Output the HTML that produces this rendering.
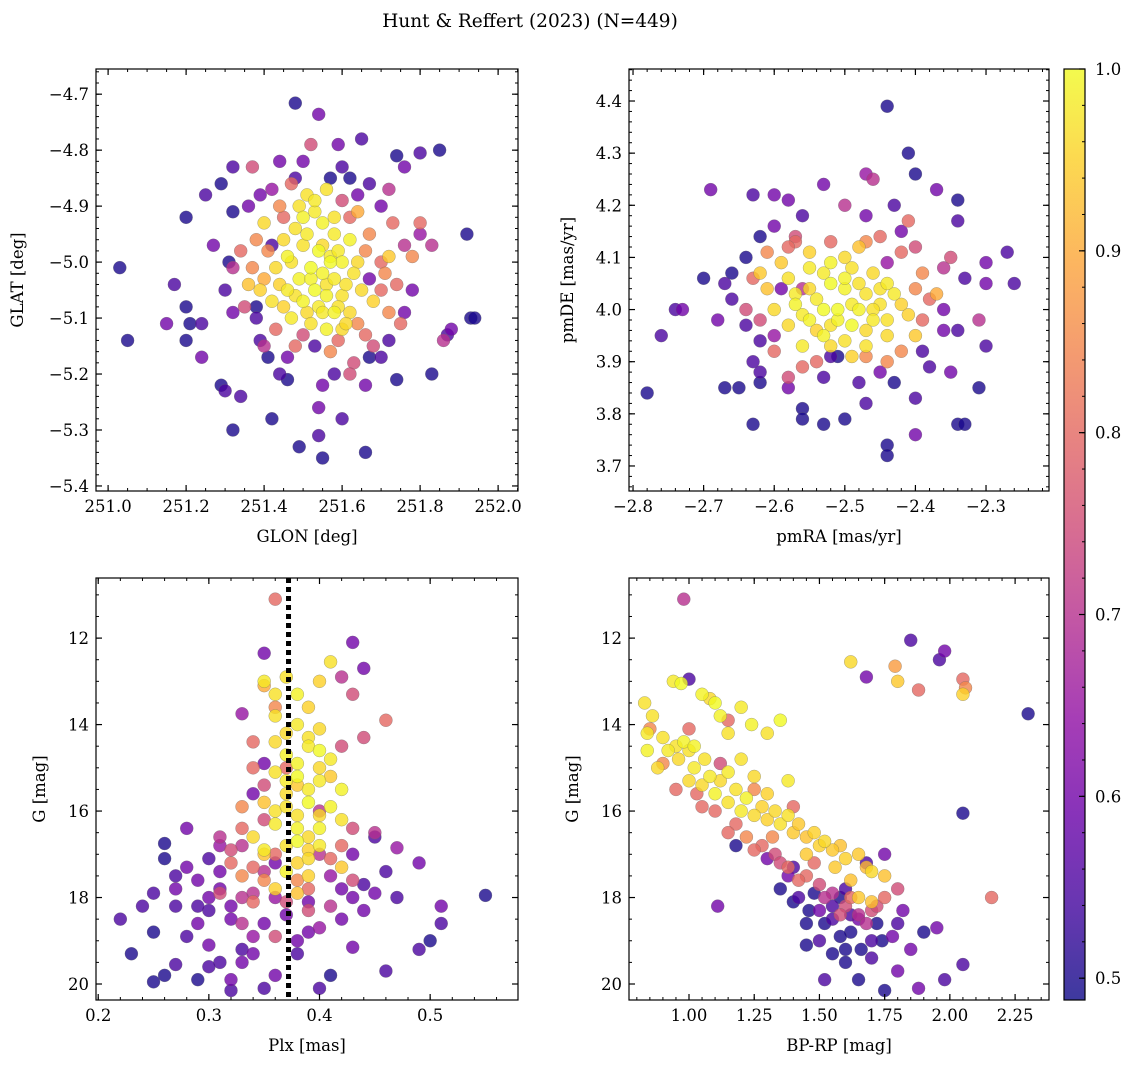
<!DOCTYPE html>
<html><head><meta charset="utf-8"><style>
body{margin:0;background:#fff;}
svg text{font-family:"DejaVu Serif","Liberation Serif",serif;fill:#000;}
</style></head><body>
<svg id="fig" width="1136" height="1068" xmlns="http://www.w3.org/2000/svg">
<text x="530" y="27" font-size="18.5" text-anchor="middle">Hunt &amp; Reffert (2023) (N=449)</text>
</svg>
<script>
// Panel 1: GLON / GLAT / membership probability
const p1x=[251.48,251.54,251.65,251.74,251.85,251.80,251.76,251.32,251.37,251.44,251.52,251.59,251.62,251.67,251.72,251.29,251.25,251.32,251.39,251.20,251.03,251.17,251.20,251.21,251.24,251.15,251.24,251.20,251.05,251.29,251.30,251.34,251.32,251.42,251.49,251.55,251.54,251.60,251.66,251.54,251.67,251.74,251.83,251.88,251.86,251.87,251.93,251.94,251.92,251.80,251.83,251.80,251.27,251.31,251.32,251.32,251.38,251.39,251.41,251.46,251.72,251.76,251.74,251.71,251.76,
251.51,251.53,251.55,251.48,251.45,251.58,251.62,251.50,251.54,251.57,251.60,251.47,251.43,251.52,251.55,251.58,251.63,251.49,251.46,251.53,251.56,251.60,251.65,251.50,251.42,251.54,251.58,251.62,251.47,251.52,251.56,251.60,251.39,251.36,251.68,251.72,251.40,251.56,
251.44,251.62,251.66,251.70,251.64,251.59,251.50,251.43,251.37,251.34,251.47,251.60,251.75,251.78,251.68,251.63,251.40,
251.48,251.57,251.64,251.42,251.67,251.53,251.46,251.58,251.66,251.38,
251.49,251.51,251.46,251.55,251.59,251.61,251.57,251.52,251.48,251.55,251.51,251.44,251.59,251.64,251.53,251.50,251.56,251.61,251.45,251.58,
251.41,251.45,251.67,251.70,251.72,251.66,251.57,251.48,251.40,251.38,251.64,251.73,251.62,251.35,
251.50,251.60,251.70,251.36,251.30,251.44,251.55,251.70,251.78,251.42];
const p1y=[-4.716,-4.736,-4.78,-4.81,-4.80,-4.805,-4.83,-4.83,-4.83,-4.82,-4.79,-4.79,-4.85,-4.86,-4.87,-4.86,-4.88,-4.91,-4.88,-4.92,-5.01,-5.04,-5.08,-5.11,-5.11,-5.11,-5.17,-5.14,-5.14,-5.22,-5.23,-5.24,-5.30,-5.28,-5.33,-5.35,-5.31,-5.28,-5.34,-5.26,-5.17,-5.21,-5.20,-5.12,-5.14,-5.13,-5.10,-5.10,-4.95,-4.95,-4.97,-4.93,-4.97,-5.00,-5.01,-5.09,-5.08,-5.14,-5.17,-5.21,-5.14,-5.09,-5.04,-5.02,-4.97,
-4.88,-4.91,-4.93,-4.94,-4.96,-4.95,-4.96,-4.97,-4.98,-4.99,-5.00,-5.00,-5.01,-5.01,-5.02,-5.03,-5.02,-5.03,-5.05,-5.05,-5.06,-5.06,-5.05,-5.07,-5.07,-5.08,-5.09,-5.09,-5.10,-5.11,-5.12,-5.12,-5.05,-5.04,-5.07,-4.99,-4.93,-4.87,
-4.90,-4.92,-4.98,-5.05,-5.11,-5.14,-5.13,-5.12,-5.01,-4.98,-4.86,-4.89,-5.11,-4.99,-5.15,-5.18,-5.15,
-4.85,-4.85,-4.88,-4.97,-5.03,-5.15,-5.17,-5.20,-5.22,-5.10,
-4.90,-4.95,-4.99,-4.97,-4.98,-5.04,-5.00,-5.03,-5.06,-5.09,-5.09,-5.04,-5.08,-5.00,-4.89,-4.92,-5.04,-5.11,-5.08,-4.92,
-4.98,-4.92,-4.95,-5.00,-5.09,-5.13,-5.16,-5.15,-5.03,-4.96,-4.91,-4.93,-5.20,-5.08,
-4.82,-4.83,-4.90,-4.90,-5.05,-5.20,-5.22,-5.17,-5.05,-4.87];
const p1c=[.5,.6,.55,.5,.5,.55,.6,.55,.75,.6,.75,.6,.5,.55,.7,.5,.55,.5,.6,.5,.5,.55,.5,.5,.55,.6,.6,.5,.5,.5,.55,.55,.5,.5,.5,.5,.55,.55,.5,.6,.5,.5,.5,.6,.7,.55,.5,.5,.5,.65,.7,.8,.6,.5,.7,.6,.5,.55,.5,.5,.55,.6,.8,.85,.7,
.97,.98,.99,.97,.96,.98,.99,.97,1,.98,.99,.97,.96,1,.99,.98,.97,.99,.98,1,.99,.97,.96,.99,.97,.98,.99,.96,.98,.97,.99,.96,.95,.93,.95,.94,.96,.97,
.85,.8,.85,.8,.85,.8,.75,.8,.85,.8,.8,.75,.8,.85,.75,.75,.7,
.55,.5,.6,.55,.6,.55,.6,.55,.6,.55,
.97,.98,.99,.96,.98,.97,1,.99,.97,.98,.96,.95,.97,.96,.98,.99,.97,.96,.95,.97,
.85,.8,.85,.8,.85,.8,.85,.8,.9,.85,.9,.8,.75,.75,
.6,.55,.6,.6,.55,.55,.6,.55,.6,.65];

// Panel 2: pmRA / pmDE
const p2x=[-2.44,-2.41,-2.69,-2.63,-2.60,-2.53,-2.47,-2.46,-2.40,-2.37,-2.34,-2.43,-2.50,-2.58,-2.56,-2.34,-2.27,-2.30,-2.26,-2.30,-2.31,-2.31,-2.35,-2.34,-2.33,-2.34,-2.38,-2.40,-2.40,-2.43,-2.44,-2.44,-2.47,-2.53,-2.56,-2.56,-2.63,-2.62,-2.65,-2.67,-2.78,-2.76,-2.74,-2.73,-2.70,-2.67,-2.66,-2.64,-2.62,-2.64,-2.62,-2.60,-2.63,-2.62,-2.30,-2.36,-2.48,-2.50,-2.58,-2.51,
-2.58,-2.55,-2.52,-2.49,-2.46,-2.44,-2.52,-2.50,-2.47,-2.54,-2.57,-2.60,-2.51,-2.48,-2.45,-2.43,-2.55,-2.52,-2.49,-2.46,-2.58,-2.53,-2.50,-2.56,-2.44,-2.41,-2.47,-2.62,-2.48,-2.55,-2.40,
-2.61,-2.57,-2.47,-2.42,-2.39,-2.38,-2.37,-2.42,-2.47,-2.54,-2.60,-2.64,-2.57,-2.52,-2.40,-2.36,-2.56,-2.44,-2.59,-2.52,-2.42,
-2.53,-2.50,-2.48,-2.55,-2.53,-2.49,-2.46,-2.51,-2.47,-2.44,-2.57,-2.54,-2.50,-2.59,-2.45,-2.42,-2.52,-2.56,-2.61,-2.49,
-2.58,-2.63,-2.45,-2.40,-2.39,-2.44,-2.56,-2.62,-2.35,-2.41,
-2.66,-2.36,-2.45,-2.58,-2.53,-2.68,-2.33,-2.47,-2.60,-2.39];
const p2y=[4.39,4.30,4.23,4.22,4.22,4.24,4.26,4.25,4.26,4.23,4.21,4.20,4.20,4.21,4.18,4.17,4.11,4.09,4.05,4.05,3.98,3.85,3.88,3.78,3.78,3.96,3.89,3.83,3.76,3.86,3.74,3.72,3.82,3.78,3.81,3.79,3.78,3.86,3.85,3.85,3.84,3.95,4.00,4.00,4.06,4.05,4.07,4.10,4.14,3.97,3.94,3.95,3.90,3.88,3.93,3.96,3.86,3.79,3.87,3.91,
4.06,4.08,4.09,4.08,4.07,4.05,4.05,4.04,4.03,4.02,4.01,4.00,4.00,4.00,4.01,4.03,3.98,3.97,3.97,3.98,3.97,3.95,3.94,3.93,3.95,3.99,3.93,4.07,4.12,4.11,3.95,
4.11,4.13,4.13,4.11,4.07,4.02,4.03,3.92,3.91,3.90,3.92,4.00,4.14,4.13,4.12,4.08,4.04,4.09,4.04,3.91,4.15,
4.07,4.06,4.05,4.04,4.00,4.01,4.00,3.98,3.96,3.98,4.03,3.96,4.10,4.09,4.04,4.01,3.93,3.99,4.04,3.91,
4.12,4.06,4.14,4.04,3.98,3.90,3.89,3.98,4.10,4.17,
4.02,4.00,3.88,3.85,3.87,3.98,4.06,4.18,4.16,3.92];
const p2c=[.5,.5,.6,.55,.6,.6,.65,.7,.5,.6,.5,.55,.7,.6,.55,.55,.55,.6,.55,.6,.7,.5,.6,.5,.5,.55,.55,.55,.6,.5,.5,.5,.55,.5,.5,.5,.5,.5,.5,.5,.5,.55,.55,.6,.5,.55,.5,.5,.5,.55,.55,.65,.55,.55,.55,.6,.55,.5,.75,.5,
.97,.98,.99,.97,.96,.98,1,.99,.97,.98,.99,.96,1,.99,.97,.98,.99,.97,1,.98,.96,.99,.97,.98,.96,.95,.97,.94,.93,.95,.94,
.85,.8,.85,.8,.85,.8,.9,.85,.85,.8,.8,.75,.75,.8,.75,.7,.7,.65,.6,.55,.6,
.98,.99,.97,.96,1,.98,.97,.99,.96,.97,.98,.95,.96,.94,.97,.95,.96,.98,.93,.95,
.8,.8,.8,.85,.8,.85,.8,.75,.75,.8,
.55,.6,.6,.6,.55,.6,.55,.6,.6,.55];

// Panel 3: Plx / G
const p3x=[0.22,0.23,0.24,0.25,0.25,0.26,0.27,0.28,0.26,0.26,0.27,0.28,0.29,0.30,0.29,0.30,0.31,0.29,0.32,0.32,0.33,0.34,0.35,0.36,0.38,0.39,0.40,0.41,0.43,0.46,0.49,0.50,0.55,0.51,0.51,0.49,0.47,0.46,0.44,0.42,0.43,0.45,0.44,0.40,0.37,0.34,0.32,0.31,0.33,0.34,0.33,0.35,0.35,0.43,0.44,0.42,0.43,0.30,0.28,0.31,0.35,0.36,0.41,0.40,0.39,0.36,0.42,0.34,0.30,0.27,
0.41,0.35,0.38,0.36,0.37,0.39,0.40,0.38,0.36,0.40,0.42,0.37,0.39,0.41,0.38,0.36,0.40,0.42,0.38,0.35,0.39,0.37,0.36,0.41,0.34,0.40,0.37,0.38,0.35,0.39,0.42,0.36,0.40,0.38,
0.35,0.36,0.34,0.37,0.33,0.33,0.35,0.34,0.38,0.42,0.43,0.44,0.42,0.46,0.39,0.33,0.32,0.31,0.36,0.40,0.45,0.31,0.36,0.33,
0.38,0.39,0.37,0.40,0.38,0.39,0.37,0.38,0.39,0.37,0.40,0.38,0.36,0.41,0.36,0.39,0.40,0.37,0.35,0.39,
0.34,0.35,0.36,0.35,0.34,0.37,0.39,0.41,0.43,0.32,0.33,0.41,
0.31,0.32,0.29,0.27,0.25,0.43,0.45,0.47,0.38,0.33,0.30,0.35];
const p3y=[18.5,19.3,18.2,18.8,19.95,19.8,19.55,18.9,17.1,16.75,17.5,16.4,17.6,17.1,18.6,19.1,19.5,19.9,20.15,19.9,19.2,19.3,20.1,19.8,19.3,18.8,20.1,19.8,19.15,19.7,19.2,19.0,17.95,18.6,18.2,17.2,16.85,17.4,17.7,17.8,17.0,16.6,18.3,18.7,18.4,18.9,18.5,17.8,16.8,15.6,13.75,14.9,12.35,12.1,12.7,12.9,13.3,18.3,17.3,16.8,17.4,17.2,17.5,17.0,18.1,18.0,18.5,17.9,18.0,18.2,
12.55,13.0,13.3,13.8,14.2,14.5,14.6,14.9,15.1,15.3,15.5,15.6,15.8,15.9,16.1,16.3,16.4,16.2,16.7,16.9,17.1,17.4,16.0,14.8,16.6,13.0,12.9,15.4,15.8,16.9,17.3,17.8,14.1,17.9,
13.1,13.6,14.4,15.0,15.9,16.4,16.2,17.3,17.6,16.8,16.4,14.3,14.5,13.9,18.3,17.5,17.2,16.6,11.1,16.0,16.5,17.9,18.9,18.6,
14.0,14.3,14.7,15.0,15.2,15.5,15.9,16.4,16.6,16.8,16.8,17.2,14.4,15.2,13.3,13.6,16.1,15.3,17.0,17.5,
15.0,15.4,17.0,17.6,18.1,18.1,17.8,17.1,17.6,16.9,18.0,18.2,
17.4,18.2,18.2,17.8,17.9,18.0,17.9,18.0,19.0,19.5,19.6,18.6];
const p3c=[.55,.5,.55,.5,.5,.5,.55,.55,.5,.5,.55,.6,.6,.55,.6,.6,.55,.5,.55,.6,.55,.6,.55,.6,.55,.6,.55,.5,.6,.55,.55,.5,.5,.55,.6,.6,.65,.55,.55,.6,.6,.55,.6,.65,.6,.65,.6,.6,.7,.6,.65,.6,.6,.6,.6,.7,.75,.55,.6,.65,.7,.6,.65,.7,.6,.65,.6,.7,.6,.55,
.97,.98,.99,.97,.96,.98,1,.99,.97,.98,.99,.96,1,.99,.97,.98,.99,.97,1,.98,.96,.99,.97,.98,.96,.95,.97,.94,.93,.95,.94,.95,.96,.93,
.9,.85,.8,.8,.85,.8,.75,.8,.85,.8,.75,.75,.75,.8,.75,.85,.8,.7,.8,.7,.7,.75,.75,.7,
.98,.97,.99,.96,1,.98,.97,.99,.96,.97,.98,.95,.96,.94,.97,.95,.96,.98,.93,.95,
.8,.75,.8,.85,.8,.75,.8,.8,.75,.75,.7,.7,
.6,.6,.55,.6,.55,.6,.6,.55,.6,.6,.55,.6];

// Panel 4: BP-RP / G
const p4x=[0.83,0.84,0.84,0.86,0.88,0.94,0.97,0.98,1.00,1.02,1.05,1.08,1.10,1.12,1.15,1.20,1.24,1.30,1.35,1.38,1.05,1.10,1.15,1.20,1.25,1.30,1.35,1.40,1.45,1.50,1.55,1.60,1.70,1.75,1.62,1.80,2.05,1.20,1.25,1.15,0.95,1.00,1.30,1.65,1.70,1.45,
0.85,0.90,0.95,1.03,1.10,1.18,1.22,1.28,1.33,1.38,1.45,1.50,1.55,1.60,1.65,1.70,1.75,1.80,1.79,1.88,2.05,2.06,2.16,1.15,1.25,1.40,1.00,1.12,
0.98,1.00,1.11,1.18,1.35,1.40,1.45,1.50,1.55,1.45,1.60,1.65,1.52,1.75,1.80,1.88,1.85,1.80,1.90,1.95,1.98,2.05,2.05,2.30,1.85,1.96,1.98,1.68,1.50,1.55,1.70,1.62,1.72,1.40,1.30,1.48,1.58,1.68,1.75,1.82,1.60,1.65,
0.90,0.92,0.96,1.02,1.06,1.08,1.12,1.18,1.22,1.28,1.33,1.38,1.42,1.48,1.52,1.58,1.65,1.68,1.62,1.56,
1.05,1.15,1.25,1.35,1.42,1.52,1.58,1.62,1.68,1.72,1.48,1.32,
1.42,1.46,1.52,1.58,1.62,1.66,1.70,1.74,1.78,1.55,1.38,1.60];
const p4y=[13.5,14.2,14.6,13.8,15.0,13.0,13.05,14.4,14.6,15.0,13.3,13.4,13.5,13.8,14.2,13.6,14.0,14.2,13.9,15.3,15.4,15.6,15.8,16.0,16.1,16.2,16.3,16.5,16.6,16.8,16.9,17.1,17.4,17.5,12.55,13.0,13.3,14.8,15.2,15.1,14.5,15.3,15.6,18.0,18.1,17.0,
14.1,14.9,15.5,15.6,16.0,16.3,16.6,16.8,17.0,17.3,17.5,17.7,17.9,18.2,18.4,18.3,18.0,17.8,12.65,13.2,12.95,13.15,18.0,13.9,15.5,15.9,14.1,14.9,
11.1,12.95,18.2,16.8,17.8,18.1,18.6,19.0,19.3,19.1,19.5,19.9,19.9,20.15,19.7,20.1,19.2,18.6,18.8,18.7,19.9,19.55,16.05,13.75,12.05,12.5,12.3,12.9,18.3,18.5,19.0,18.8,18.6,17.3,17.1,17.9,18.0,17.2,17.0,18.3,19.2,18.5,
14.3,14.6,14.8,14.5,14.8,15.2,15.3,15.5,15.7,15.9,16.0,16.1,16.3,16.5,16.7,16.8,17.0,17.3,17.6,17.3,
15.9,16.5,16.9,17.2,17.6,18.0,18.4,18.0,18.6,18.2,17.2,16.6,
18.0,18.3,18.6,18.9,18.4,19.2,19.4,19.0,18.9,18.2,17.5,17.8];
const p4c=[.97,.98,.99,.97,.96,.98,1,.99,.97,.98,.99,.96,1,.99,.97,.98,.99,.97,1,.98,.96,.99,.97,.98,.96,.95,.97,.94,.93,.95,.94,.95,.96,.93,.96,.94,.95,.97,.96,.98,.97,.96,.95,.94,.93,.94,
.85,.85,.8,.8,.8,.8,.85,.8,.75,.8,.8,.75,.7,.75,.7,.75,.8,.75,.88,.8,.8,.85,.8,.8,.85,.8,.8,.75,
.7,.55,.6,.5,.5,.5,.5,.55,.5,.5,.5,.5,.55,.5,.6,.6,.6,.55,.5,.6,.55,.55,.5,.5,.55,.55,.6,.6,.6,.55,.55,.5,.5,.55,.6,.5,.5,.55,.6,.6,.5,.6,
.97,.98,.96,.99,.97,.98,.96,.97,.99,.95,.96,.97,.94,.95,.96,.93,.94,.92,.93,.94,
.8,.8,.8,.75,.8,.7,.75,.8,.7,.75,.8,.85,
.55,.5,.5,.5,.55,.5,.55,.5,.6,.55,.6,.55];

const cbTicks=[0.5,0.6,0.7,0.8,0.9,1.0];
const cMin=0.488,cMax=1.0;

const NS="http://www.w3.org/2000/svg";
const fig=document.getElementById('fig');
function mk(tag,attrs,parent){const e=document.createElementNS(NS,tag);for(const k in attrs)e.setAttribute(k,attrs[k]);(parent||fig).appendChild(e);return e;}
const stops=['#0d0887','#41049d','#6a00a8','#8f0da4','#b12a90','#cc4778','#e16462','#f2844b','#fca636','#fcce25','#f0f921'];
function hx(h){return [1,3,5].map(i=>parseInt(h.substr(i,2),16));}
function plasma(t){t=Math.max(0,Math.min(1,t));const f=t*10,i=Math.min(9,Math.floor(f)),r=f-i;const a=hx(stops[i]),b=hx(stops[i+1]);return 'rgb('+a.map((v,k)=>Math.round(v+(b[k]-v)*r)).join(',')+')';}
function cmap(p){return plasma((p-cMin)/(cMax-cMin));}

function panel(o){
  const g=mk('g',{});
  
  
  const sx=v=>o.L+(v-o.x0)/(o.x1-o.x0)*(o.R-o.L);
  const sy=v=>o.T+(v-o.y0)/(o.y1-o.y0)*(o.B-o.T);
  const clip=mk('clipPath',{id:o.name+'-clip'},g);
  mk('rect',{x:o.L,y:o.T,width:o.R-o.L,height:o.B-o.T},clip);
  const pg=mk('g',{'clip-path':'url(#'+o.name+'-clip)'},g);
  const idx=o.xs.map((_,i)=>i).sort((a,b)=>o.cs[a]-o.cs[b]);
  idx.forEach(i=>{
    const c=mk('circle',{cx:sx(o.xs[i]),cy:sy(o.ys[i]),r:6.5,fill:cmap(o.cs[i]),'fill-opacity':0.8,stroke:'#666','stroke-width':0.4,'stroke-opacity':0.7},pg);
    
    
  });
  if(o.vline!==undefined){
    const l=mk('line',{x1:sx(o.vline),x2:sx(o.vline),y1:o.T,y2:o.B,stroke:'#000','stroke-width':5,'stroke-dasharray':'5,4'},pg);
    
    
  }
  const eps=1e-9;
  function ticks(a0,a1,step){const lo=Math.min(a0,a1),hi=Math.max(a0,a1);const r=[];for(let v=Math.ceil(lo/step-eps)*step;v<=hi+eps;v+=step)r.push(+v.toFixed(6));return r;}
  ticks(o.x0,o.x1,o.xminor).forEach(v=>{const x=sx(v);mk('line',{x1:x,x2:x,y1:o.B,y2:o.B-3,stroke:'#000','stroke-width':1},g);mk('line',{x1:x,x2:x,y1:o.T,y2:o.T+3,stroke:'#000','stroke-width':1},g);});
  ticks(o.y0,o.y1,o.yminor).forEach(v=>{const y=sy(v);mk('line',{x1:o.L,x2:o.L+3,y1:y,y2:y,stroke:'#000','stroke-width':1},g);mk('line',{x1:o.R,x2:o.R-3,y1:y,y2:y,stroke:'#000','stroke-width':1},g);});
  ticks(o.x0,o.x1,o.xmajor).forEach(v=>{const x=sx(v);mk('line',{x1:x,x2:x,y1:o.B,y2:o.B-6,stroke:'#000','stroke-width':1.2},g);mk('line',{x1:x,x2:x,y1:o.T,y2:o.T+6,stroke:'#000','stroke-width':1.2},g);
    const t=mk('text',{x:x,y:o.B+21,'font-size':16.5,'text-anchor':'middle'},g);t.textContent=v.toFixed(o.xdec).replace('-','\u2212');
    });
  ticks(o.y0,o.y1,o.ymajor).forEach(v=>{const y=sy(v);mk('line',{x1:o.L,x2:o.L+6,y1:y,y2:y,stroke:'#000','stroke-width':1.2},g);mk('line',{x1:o.R,x2:o.R-6,y1:y,y2:y,stroke:'#000','stroke-width':1.2},g);
    const t=mk('text',{x:o.L-7,y:y+6,'font-size':16.5,'text-anchor':'end'},g);t.textContent=v.toFixed(o.ydec).replace('-','\u2212');
    });
  mk('rect',{x:o.L,y:o.T,width:o.R-o.L,height:o.B-o.T,fill:'none',stroke:'#000','stroke-width':1.2},g);
  const xl=mk('text',{x:(o.L+o.R)/2,y:o.B+51,'font-size':16.5,'text-anchor':'middle'},g);xl.textContent=o.xlabel;
  
  const yx=o.ylx,yy=(o.T+o.B)/2;
  const yl=mk('text',{x:yx,y:yy,'font-size':16.5,'text-anchor':'middle',transform:'rotate(-90 '+yx+' '+yy+')'},g);yl.textContent=o.ylabel;
  
}

panel({name:'glon-glat-panel',xs:p1x,ys:p1y,cs:p1c,L:96,R:518,T:69,B:491,x0:250.969,x1:252.051,y0:-4.655,y1:-5.409,xmajor:0.2,xminor:0.05,ymajor:0.1,yminor:0.02,xdec:1,ydec:1,xlabel:'GLON [deg]',ylabel:'GLAT [deg]',ylx:23});
panel({name:'proper-motion-panel',xs:p2x,ys:p2y,cs:p2c,L:629,R:1049,T:69,B:491,x0:-2.8057,x1:-2.2108,y0:4.4614,y1:3.652,xmajor:0.1,xminor:0.02,ymajor:0.1,yminor:0.02,xdec:1,ydec:1,xlabel:'pmRA [mas/yr]',ylabel:'pmDE [mas/yr]',ylx:573});
panel({name:'parallax-magnitude-panel',xs:p3x,ys:p3y,cs:p3c,L:96,R:518,T:578,B:1000,x0:0.198,x1:0.5794,y0:10.61,y1:20.37,xmajor:0.1,xminor:0.02,ymajor:2,yminor:0.5,xdec:1,ydec:0,xlabel:'Plx [mas]',ylabel:'G [mag]',ylx:45,vline:0.372});
panel({name:'color-magnitude-panel',xs:p4x,ys:p4y,cs:p4c,L:629,R:1049,T:578,B:1000,x0:0.770,x1:2.380,y0:10.61,y1:20.37,xmajor:0.25,xminor:0.05,ymajor:2,yminor:0.5,xdec:2,ydec:0,xlabel:'BP-RP [mag]',ylabel:'G [mag]',ylx:578});

// colorbar
const cb=mk('g',{});


const defs=mk('defs',{},cb);
const lg=mk('linearGradient',{id:'cbg',x1:0,y1:1,x2:0,y2:0},defs);
for(let i=0;i<=20;i++){mk('stop',{offset:i/20,'stop-color':plasma(i/20),'stop-opacity':0.8},lg);}
const cT=69,cB=1000,cL=1064,cR=1085;
mk('rect',{x:cL,y:cT,width:cR-cL,height:cB-cT,fill:'url(#cbg)',stroke:'#000','stroke-width':1.2},cb);
const cy=v=>cB-(v-cMin)/(cMax-cMin)*(cB-cT);
for(let v=0.5;v<=1.0001;v+=0.02){const y=cy(v);mk('line',{x1:cR,x2:cR-3,y1:y,y2:y,stroke:'#000'},cb);}
cbTicks.forEach(v=>{const y=cy(v);mk('line',{x1:cR,x2:cR-6,y1:y,y2:y,stroke:'#000','stroke-width':1.2},cb);
  const t=mk('text',{x:cR+10,y:y+6,'font-size':16.5},cb);t.textContent=v.toFixed(1);
  });
</script>
</body></html>
